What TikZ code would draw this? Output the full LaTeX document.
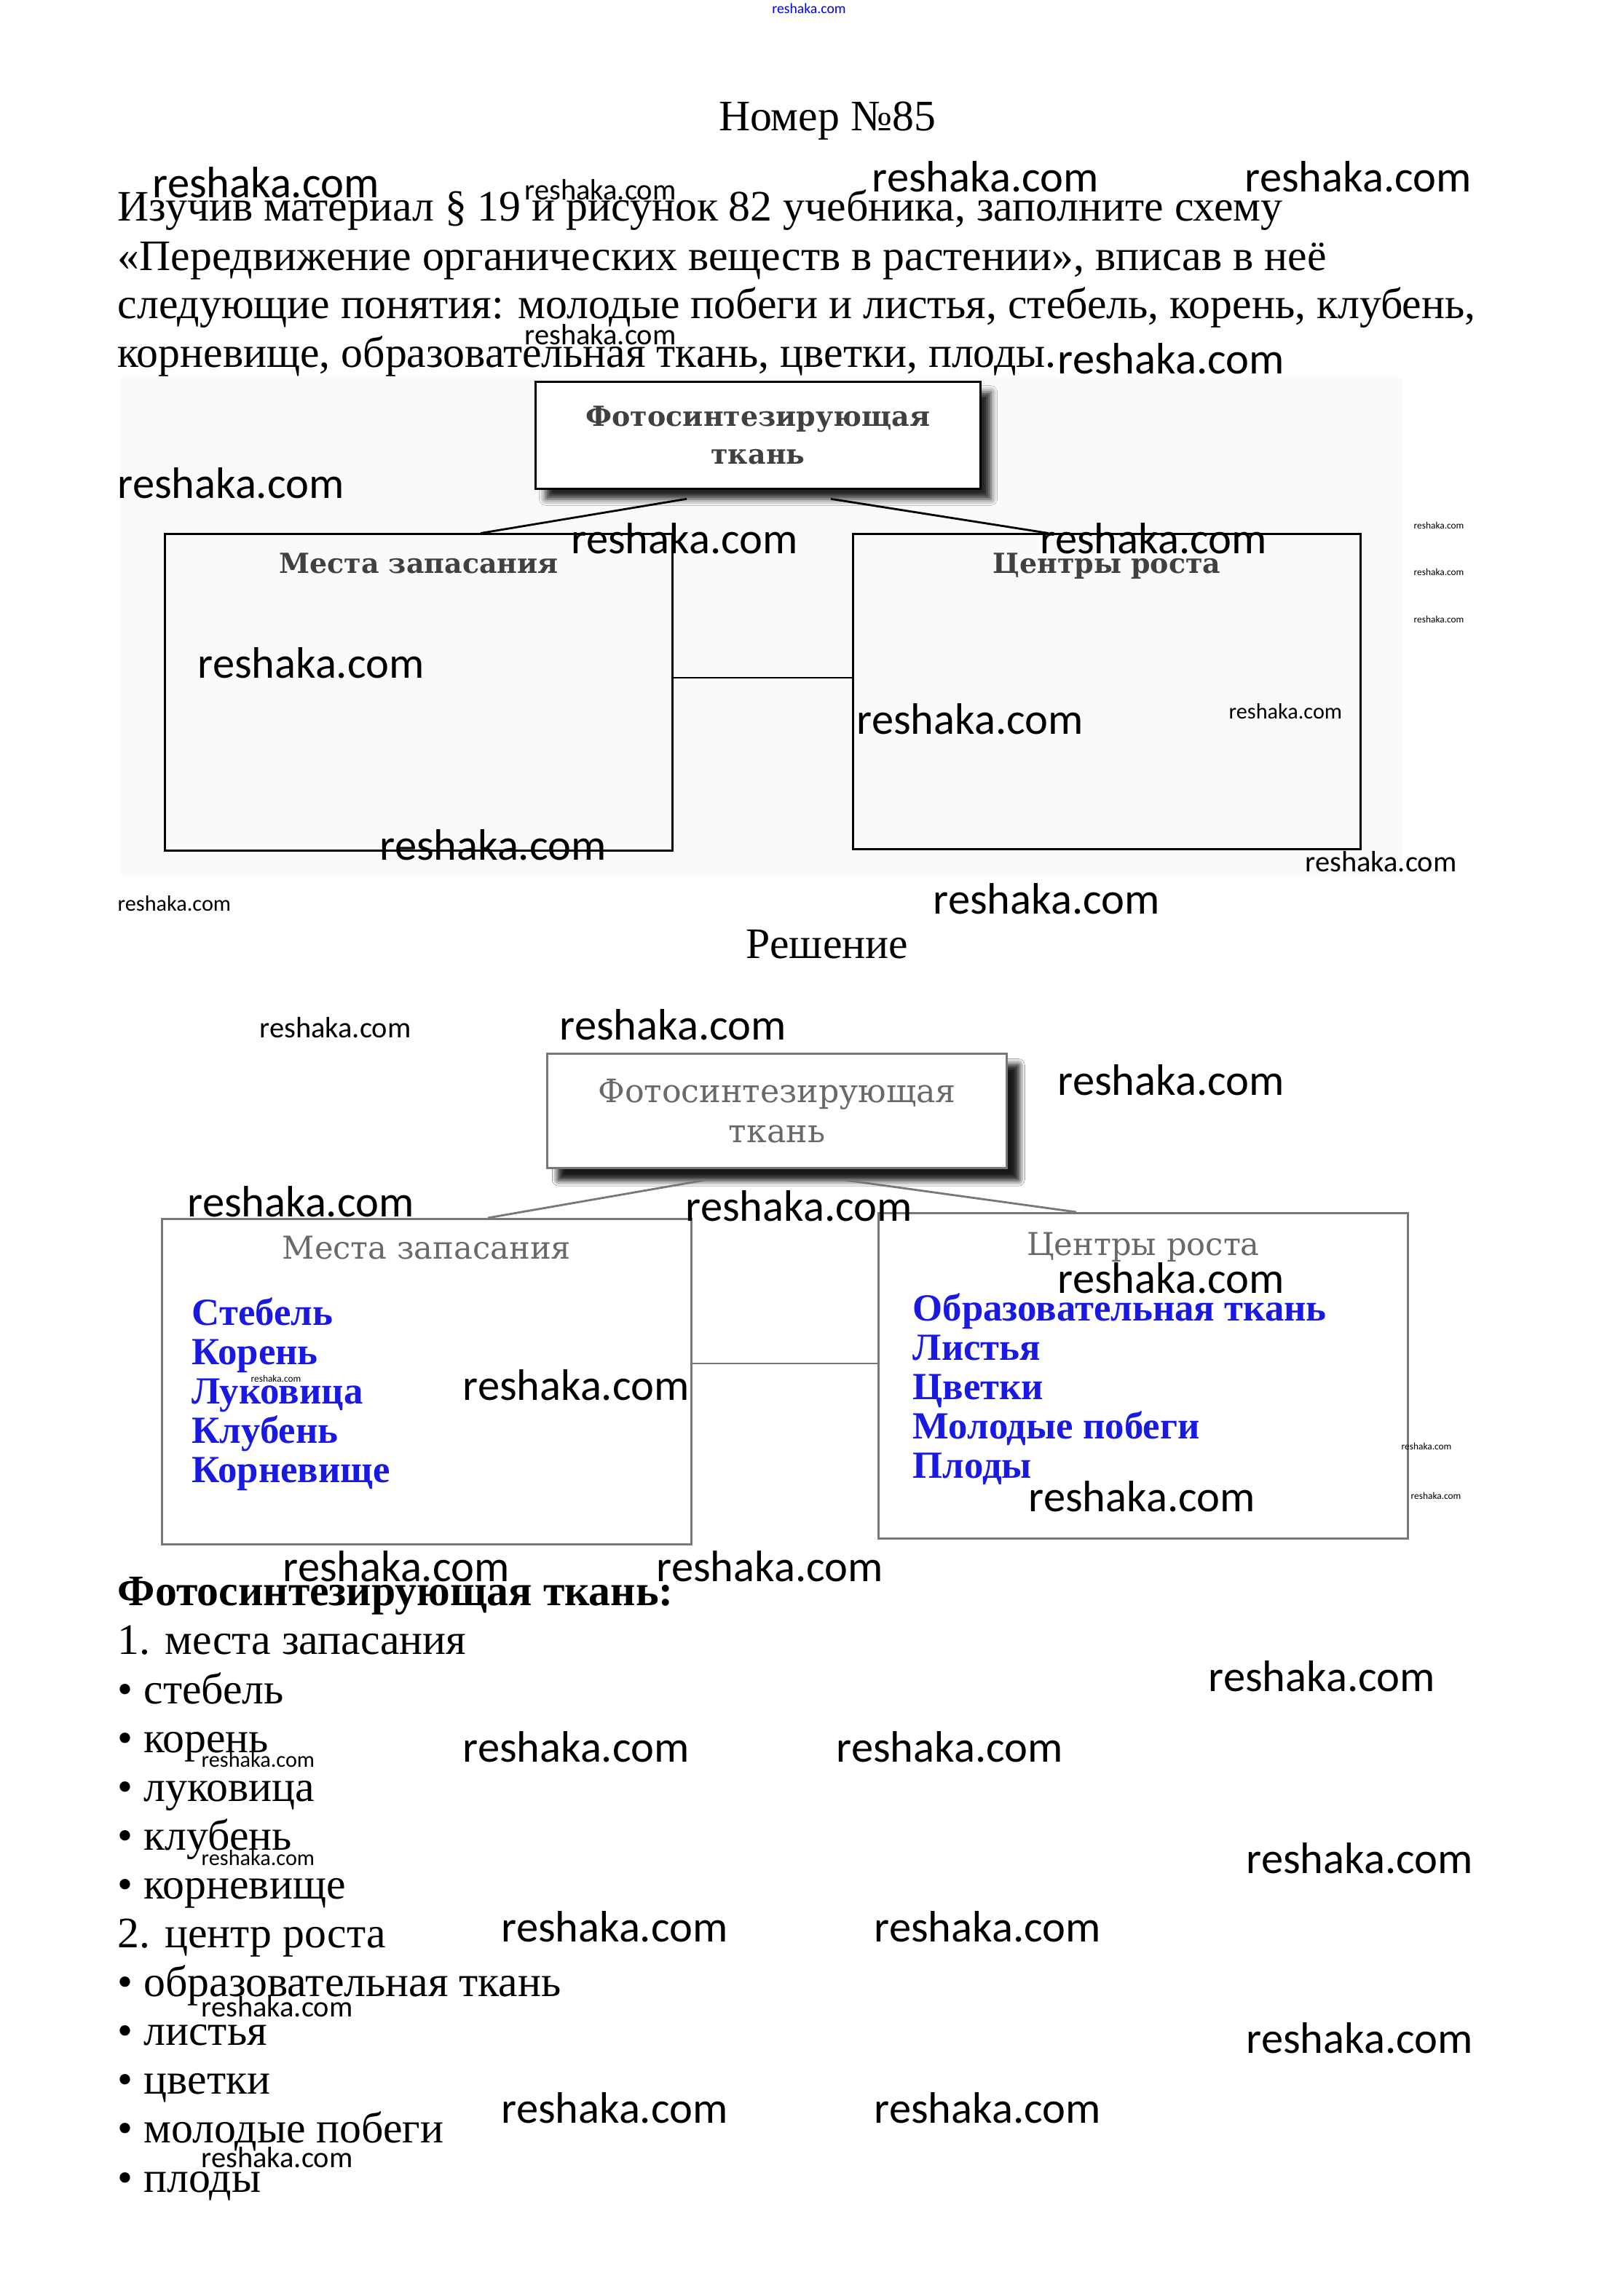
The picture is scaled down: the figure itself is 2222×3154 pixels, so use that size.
\documentclass[tikz,border=0pt]{standalone}
\usepackage{fontspec}
\setmainfont{Liberation Serif}
\newfontfamily\wmfont{Carlito}
\newfontfamily\schfont{DejaVu Serif}
\usetikzlibrary{positioning,shadows.blur}

\definecolor{itemblue}{RGB}{25,25,225}
\definecolor{labgray}{RGB}{105,105,105}
\definecolor{linegray}{RGB}{120,120,120}

\begin{document}
\begin{tikzpicture}[x=0.01cm,y=-0.01cm,
  every node/.style={inner sep=0pt},
  txt/.style={anchor=west,text height=0.7em,text depth=0.2em,font=\fontsize{17pt}{20pt}\selectfont},
  heading/.style={font=\fontsize{17pt}{20pt}\selectfont},
  topbox/.style={draw,line width=1pt,fill=white,align=center,
    blur shadow={shadow xshift=4pt,shadow yshift=-4pt,shadow blur radius=2.5pt,shadow opacity=85}},
  bigbox/.style={draw,line width=0.8pt},
  lab/.style={font=\schfont\bfseries\fontsize{10.8pt}{15pt}\selectfont,text=black!75},
  labl/.style={font=\schfont\fontsize{12.3pt}{15pt}\selectfont,text=labgray},
  item/.style={anchor=west,text height=0.7em,text depth=0.2em,text=itemblue,font=\bfseries\fontsize{15pt}{15pt}\selectfont},
  wm/.style={anchor=west,font=\wmfont\fontsize{17.2pt}{17pt}\selectfont},
  wmm/.style={anchor=west,font=\wmfont\fontsize{11.5pt}{12pt}\selectfont},
  wms/.style={anchor=west,font=\wmfont\fontsize{8.6pt}{9pt}\selectfont},
  wmt/.style={anchor=west,font=\wmfont\fontsize{3.8pt}{4pt}\selectfont}]
  \useasboundingbox[fill=white] (0,0) rectangle (2222,3154);

  % header and task
  \node[anchor=north,text=blue,font=\wmfont\fontsize{5.6pt}{6pt}\selectfont] (wmtop) at (1111,4) {reshaka.com};
  \node[heading] (title) at (1136,166) {Номер №85};
  \node[txt] (task1) at (161,295) {Изучив материал § 19 и рисунок 82 учебника, заполните схему};
  \node[txt] (task2) at (161,363) {«Передвижение органических веществ в растении», вписав в неё};
  \node[txt] (task3) at (161,429) {следующие понятия: молодые побеги и листья, стебель, корень, клубень,};
  \node[txt] (task4) at (161,496) {корневище, образовательная ткань, цветки, плоды.};

  % empty scheme
  \fill[black!2] (167,519) rectangle (1926,1203);
  \node[bigbox,minimum width=6.96cm,minimum height=4.34cm] (left1) at (575,951) {};
  \node[bigbox,minimum width=6.96cm,minimum height=4.32cm] (right1) at (1520,950) {};
  \node[topbox,minimum width=6.11cm,minimum height=1.47cm,lab] (top1) at (1041,598) {Фотосинтезирующая\\ткань};
  \draw[line width=0.8pt] ([xshift=-0.98cm,yshift=-0.12cm]top1.south) -- ([xshift=0.85cm]left1.north);
  \draw[line width=0.8pt] ([xshift=1.0cm,yshift=-0.12cm]top1.south) -- ([xshift=-0.8cm]right1.north);
  \draw[line width=0.8pt] ([yshift=0.2cm]left1.east) -- ([yshift=0.2cm]left1.east -| right1.west);
  \node[lab,below=0.27cm of left1.north] (store1) {Места запасания};
  \node[lab,below=0.27cm of right1.north] (grow1) {Центры роста};

  \node[heading] (answer) at (1136,1297) {Решение};

  % filled scheme
  \node[bigbox,draw=linegray,minimum width=7.26cm,minimum height=4.47cm] (left2) at (586,1898) {};
  \node[bigbox,draw=linegray,minimum width=7.26cm,minimum height=4.47cm] (right2) at (1570,1890) {};
  \node[topbox,draw=linegray,minimum width=6.31cm,minimum height=1.57cm,labl,font=\schfont\fontsize{12.6pt}{15.5pt}\selectfont,
    blur shadow={shadow xshift=4.5pt,shadow yshift=-4.5pt,shadow blur radius=2.5pt,shadow opacity=70}] (top2) at (1067,1526) {Фотосинтезирующая\\ткань};
  \draw[linegray,line width=0.8pt] ([xshift=-1.0cm,yshift=-0.15cm]top2.south) -- ([xshift=0.84cm]left2.north);
  \draw[linegray,line width=0.8pt] ([xshift=0.95cm,yshift=-0.15cm]top2.south) -- ([xshift=-0.92cm]right2.north);
  \draw[linegray,line width=0.8pt] ([yshift=0.25cm]left2.east) -- ([yshift=0.25cm]left2.east -| right2.west);
  \node[labl,below=0.24cm of left2.north] (store2) {Места запасания};
  \node[labl,below=0.27cm of right2.north] (grow2) {Центры роста};
  \foreach \t [count=\i] in {Стебель,Корень,Луковица,Клубень,Корневище}
    \node[item] (st\i) at (263,1758+54*\i) {\t};
  \foreach \t [count=\i] in {Образовательная ткань,Листья,Цветки,Молодые побеги,Плоды}
    \node[item] (gr\i) at (1253,1752+54*\i) {\t};

  % answer as a list
  \node[txt,font=\bfseries\fontsize{17pt}{20pt}\selectfont] (ans) at (161,2197) {Фотосинтезирующая ткань:};
  \foreach \t [count=\i] in {1. места запасания,• стебель,• корень,• луковица,• клубень,• корневище,
      2. центр роста,• образовательная ткань,• листья,• цветки,• молодые побеги,• плоды}
    \node[txt] (li\i) at (161,2197+67.1*\i) {\t};

  % watermarks
  \foreach \x/\y [count=\i] in {209/251,1197/243,1709/243,1452/493,161/664,784/740,1428/740,
      271/911,1176/988,521/1161,1281/1235,768/1408,1452/1484,257/1651,941/1657,1452/1756,
      635/1903,1412/2056,388/2152,901/2152,1659/2303,635/2400,1148/2400,1711/2553,
      688/2647,1200/2647,1711/2800,688/2896,1200/2896}
    \node[wm] (wa\i) at (\x,\y) {reshaka.com};
  \foreach \x/\y [count=\i] in {720/261,720/460,356/1412,1792/1184,276/2757,276/2964}
    \node[wmm] (wb\i) at (\x,\y) {reshaka.com};
  \foreach \x/\y [count=\i] in {161/1241,1687/977,276/2417,276/2552}
    \node[wms] (wc\i) at (\x,\y) {reshaka.com};
  \foreach \x/\y [count=\i] in {1941/722,1941/786,1941/851,1924/1987,1937/2055,344/1894}
    \node[wmt] (wd\i) at (\x,\y) {reshaka.com};
\end{tikzpicture}
\end{document}
